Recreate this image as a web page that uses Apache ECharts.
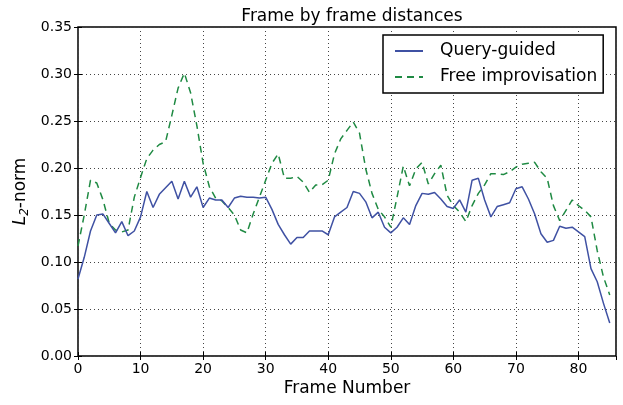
<!DOCTYPE html>
<html><head><meta charset="utf-8">
<script src="https://cdn.jsdelivr.net/npm/echarts@6/dist/echarts.min.js"></script>
<style>html,body{margin:0;padding:0;background:#fff}#c{width:623px;height:405px}</style>
</head><body><div id="c"></div>
<script>
const frames = [0,1,2,3,4,5,6,7,8,9,10,11,12,13,14,15,16,17,18,19,20,21,22,23,24,25,26,27,28,29,30,31,32,33,34,35,36,37,38,39,40,41,42,43,44,45,46,47,48,49,50,51,52,53,54,55,56,57,58,59,60,61,62,63,64,65,66,67,68,69,70,71,72,73,74,75,76,77,78,79,80,81,82,83,84,85];
const queryGuided = [0.082,0.105,0.133,0.150,0.151,0.141,0.131,0.143,0.128,0.133,
  0.148,0.175,0.158,0.172,0.179,0.186,0.167,0.186,0.169,0.180,
  0.158,0.168,0.166,0.166,0.158,0.168,0.170,0.169,0.169,0.168,
  0.169,0.156,0.140,0.129,0.119,0.126,0.126,0.133,0.133,0.133,
  0.129,0.148,0.153,0.158,0.175,0.173,0.164,0.147,0.153,0.137,
  0.131,0.137,0.147,0.140,0.160,0.173,0.172,0.174,0.167,0.159,
  0.157,0.166,0.153,0.187,0.189,0.166,0.148,0.159,0.161,0.163,
  0.178,0.180,0.167,0.151,0.130,0.121,0.123,0.138,0.136,0.137,
  0.132,0.127,0.093,0.079,0.056,0.035];
const freeImprov = [0.117,0.150,0.187,0.184,0.166,0.141,0.134,0.132,0.134,0.169,
  0.190,0.210,0.219,0.225,0.228,0.256,0.285,0.301,0.280,0.245,
  0.205,0.180,0.168,0.165,0.158,0.150,0.134,0.131,0.151,0.169,
  0.187,0.205,0.215,0.189,0.189,0.191,0.185,0.174,0.182,0.182,
  0.187,0.215,0.231,0.240,0.249,0.237,0.199,0.173,0.156,0.148,
  0.137,0.169,0.202,0.181,0.199,0.206,0.183,0.194,0.203,0.171,
  0.160,0.153,0.143,0.160,0.173,0.182,0.194,0.194,0.193,0.196,
  0.201,0.204,0.205,0.206,0.196,0.189,0.160,0.144,0.155,0.166,
  0.160,0.155,0.148,0.112,0.084,0.065];
const seriesNames = ['Query-guided','Free improvisation'];
const titleText = 'Frame by frame distances';
const xName = 'Frame Number';

const font = 'DejaVu Sans';
const pair = (ys) => frames.map((f,i)=>[f, ys[i]]);
const gridLine = {show:true, lineStyle:{color:'#444', width:1, type:[1,3]}};
const tick = {show:true, inside:true, length:4, lineStyle:{color:'#000', width:1}};

const chart = echarts.init(document.getElementById('c'), null, {renderer:'canvas'});
chart.setOption({
  animation:false,
  backgroundColor:'#fff',
  title:{text:titleText, left:347, top:3, textAlign:'center',
    textStyle:{fontFamily:font, fontSize:17, fontWeight:'normal', color:'#000'}},
  grid:{left:78, right:7, top:27, bottom:49, show:true, borderColor:'#000', borderWidth:1.5, backgroundColor:'transparent'},
  legend:{
    orient:'vertical', left:383, top:35,
    padding:[6,6,6,11], itemGap:6, itemWidth:28, itemHeight:14,
    backgroundColor:'#fff', borderColor:'#000', borderWidth:1.5, borderRadius:0,
    itemStyle:{opacity:0},
    textStyle:{fontFamily:font, fontSize:17, color:'#000', lineHeight:20, padding:[0,0,0,12]},
    data:seriesNames
  },
  xAxis:[{
    type:'value', min:0, max:86, interval:10,
    name:xName, nameLocation:'middle', nameGap:24, nameMoveOverlap:false,
    nameTextStyle:{fontFamily:font, fontSize:17, color:'#000'},
    axisLine:{show:false}, axisTick:tick, splitLine:gridLine,
    axisLabel:{fontFamily:font, fontSize:14, color:'#000', margin:6, showMaxLabel:false}
  },{
    type:'value', min:0, max:86, interval:10, position:'top',
    axisLine:{show:false}, axisTick:tick, splitLine:{show:false}, axisLabel:{show:false}
  }],
  yAxis:[{
    type:'value', min:0, max:0.35, interval:0.05,
    name:'{i|L}{s|2}{n|-norm}', nameLocation:'middle', nameGap:47, nameRotate:90, nameMoveOverlap:false,
    nameTextStyle:{fontFamily:font, fontSize:17, color:'#000',
      rich:{
        i:{fontFamily:font, fontSize:17, fontStyle:'italic', color:'#000'},
        s:{fontFamily:font, fontSize:12, fontStyle:'italic', color:'#000', padding:[8,0,0,0]},
        n:{fontFamily:font, fontSize:17, color:'#000'}
      }},
    axisLine:{show:false}, axisTick:tick, splitLine:gridLine,
    axisLabel:{fontFamily:font, fontSize:14, color:'#000', margin:6, formatter:v=>v.toFixed(2)}
  },{
    type:'value', min:0, max:0.35, interval:0.05, position:'right',
    axisLine:{show:false}, axisTick:tick, splitLine:{show:false}, axisLabel:{show:false}
  }],
  series:[{
    name:seriesNames[0], type:'line', data:pair(queryGuided), showSymbol:false, symbol:'none',
    lineStyle:{color:'#3f51a3', width:1.5}, itemStyle:{color:'#3f51a3'}, z:3
  },{
    name:seriesNames[1], type:'line', data:pair(freeImprov), showSymbol:false, symbol:'none',
    lineStyle:{color:'#1f8a43', width:1.5, type:[7,5]}, itemStyle:{color:'#1f8a43'}, z:2
  }]
});
</script></body></html>
